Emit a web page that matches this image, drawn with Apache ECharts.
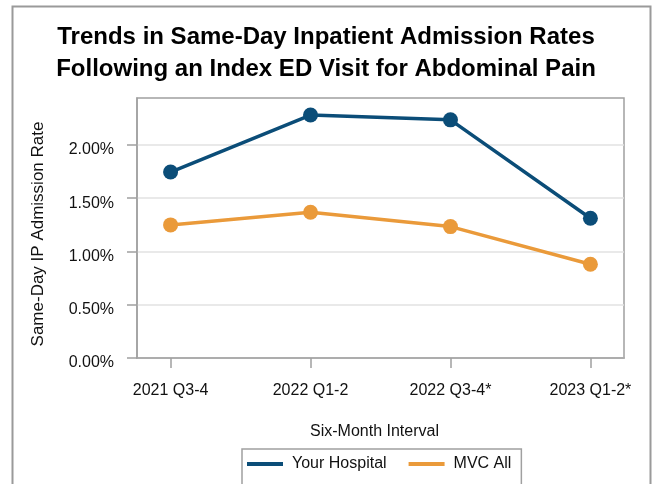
<!DOCTYPE html>
<html>
<head>
<meta charset="utf-8">
<script src="https://cdn.jsdelivr.net/npm/echarts@6/dist/echarts.min.js"></script>
<style>
html,body{margin:0;padding:0;background:#fff;}
#c{width:652px;height:484px;}
</style>
</head>
<body>
<div id="c"></div>
<script>
const categories = ['2021 Q3-4', '2022 Q1-2', '2022 Q3-4*', '2023 Q1-2*'];
const yourHospital = [1.745, 2.28, 2.235, 1.312];
const mvcAll = [1.249, 1.368, 1.233, 0.88];
const yTicks = [0, 0.5, 1, 1.5, 2];
const xTicks = [0, 1, 2, 3];

const FONT = '"Liberation Sans", Arial, sans-serif';
const chart = echarts.init(document.getElementById('c'), null, {renderer: 'canvas'});
const toPairs = arr => arr.map((v, i) => [i, v]);

chart.setOption({
  animation: false,
  backgroundColor: '#fff',
  graphic: [{
    type: 'rect', left: 10, top: 4,
    shape: {x: 0, y: 0, width: 638, height: 500},
    style: {fill: 'none', stroke: '#9a9a9a', lineWidth: 2}, z: -1
  }],
  title: {
    text: 'Trends in Same-Day Inpatient Admission Rates\nFollowing an Index ED Visit for Abdominal Pain',
    left: 'center', top: 16,
    textStyle: {fontFamily: FONT, fontSize: 24, fontWeight: 'bold', color: '#000', lineHeight: 32}
  },
  legend: {
    top: 449, left: 242,
    padding: [7, 10, 20, 5],
    borderColor: '#a0a0a0', borderWidth: 1.5,
    itemWidth: 36, itemHeight: 4, itemGap: 22,
    icon: 'rect',
    textStyle: {fontFamily: FONT, fontSize: 16, color: '#111', padding: [0, 0, 0, 4]},
    data: ['Your Hospital', 'MVC All']
  },
  grid: {
    left: 137, top: 98, right: 28, bottom: 126,
    show: true, borderColor: '#a0a0a0', borderWidth: 1.5, containLabel: false
  },
  xAxis: {
    type: 'value', min: -0.24, max: 3.24,
    name: 'Six-Month Interval', nameLocation: 'middle', nameGap: 66,
    nameTextStyle: {fontFamily: FONT, fontSize: 16, color: '#111', padding: [0, 12, 0, 0]},
    axisLine: {show: true, onZero: false, lineStyle: {color: '#a0a0a0', width: 1.5}},
    axisTick: {show: true, length: 10, customValues: xTicks, lineStyle: {color: '#a0a0a0', width: 1.5}},
    axisLabel: {customValues: xTicks, margin: 25, fontFamily: FONT, fontSize: 16, color: '#111',
      formatter: v => categories[Math.round(v)] || ''},
    splitLine: {show: false}
  },
  yAxis: {
    type: 'value', min: 0, max: 2.44, interval: 0.5,
    name: 'Same-Day IP Admission Rate', nameLocation: 'middle', nameGap: 90,
    nameTextStyle: {fontFamily: FONT, fontSize: 17, color: '#111', padding: [0, 12, 0, 0]},
    axisLine: {show: true, onZero: false, lineStyle: {color: '#a0a0a0', width: 1.5}},
    axisTick: {show: true, length: 10, customValues: yTicks, lineStyle: {color: '#a0a0a0', width: 1.5}},
    axisLabel: {customValues: yTicks, margin: 23, fontFamily: FONT, fontSize: 16, color: '#111',
      verticalAlign: 'top', lineHeight: 10, formatter: v => v.toFixed(2) + '%'},
    splitLine: {show: true, lineStyle: {color: '#e2e2e2', width: 1.5}}
  },
  series: [
    {
      name: 'Your Hospital', type: 'line', data: toPairs(yourHospital),
      symbol: 'circle', symbolSize: 15,
      itemStyle: {color: '#0b4d78'}, lineStyle: {color: '#0b4d78', width: 3.5}
    },
    {
      name: 'MVC All', type: 'line', data: toPairs(mvcAll),
      symbol: 'circle', symbolSize: 15,
      itemStyle: {color: '#ea9a3a'}, lineStyle: {color: '#ea9a3a', width: 3.5}
    }
  ]
});
</script>
</body>
</html>
